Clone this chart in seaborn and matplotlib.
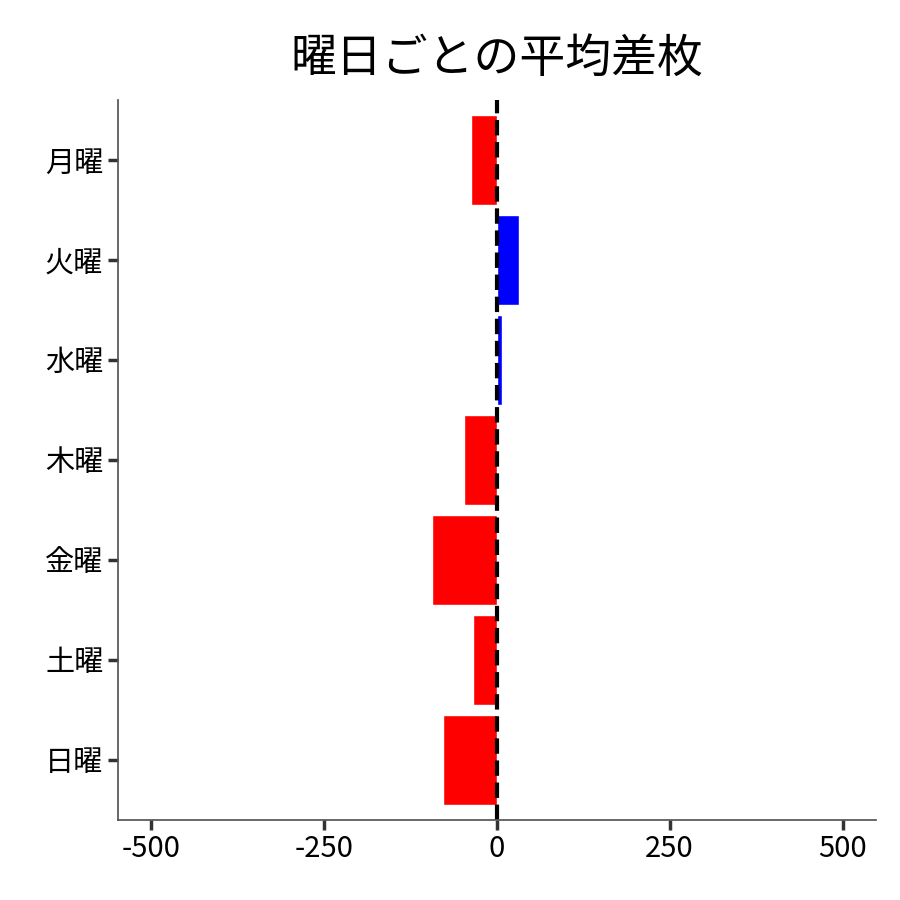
import matplotlib
matplotlib.use("Agg")
import matplotlib.pyplot as plt
import seaborn as sns
import pandas as pd

days = ["月曜", "火曜", "水曜", "木曜", "金曜", "土曜", "日曜"]
avg_diff = [-38, 32, 7, -48, -94, -35, -78]

sns.set_theme(style="ticks")
plt.rcParams['font.family'] = ['Noto Sans CJK JP', 'DejaVu Sans']
plt.rcParams['axes.unicode_minus'] = False

df = pd.DataFrame({"day": days, "diff": avg_diff})
colors = ["blue" if v > 0 else "red" for v in avg_diff]

fig = plt.figure(figsize=(9, 9), dpi=100)
ax = fig.add_axes([0.131, 0.089, 0.842, 0.8])
sns.barplot(data=df, x="diff", y="day", hue="day", palette=colors, legend=False,
            width=0.9, saturation=1, ax=ax)
ax.axvline(0, color="black", linestyle="--", linewidth=3)
ax.set_xlim(-548, 548)
ax.set_ylim(6.6, -0.6)
ax.set_xticks([-500, -250, 0, 250, 500])
ax.set_xlabel("")
ax.set_ylabel("")
ax.tick_params(axis="both", labelsize=21, length=7, width=2.5, color="#333333",
               labelcolor="black")
for s in ["top", "right"]:
    ax.spines[s].set_visible(False)
for s in ["left", "bottom"]:
    ax.spines[s].set_color("#555555")
ax.set_title("曜日ごとの平均差枚", fontsize=33, pad=20, color="black")
fig.savefig("out.png", dpi=100)
